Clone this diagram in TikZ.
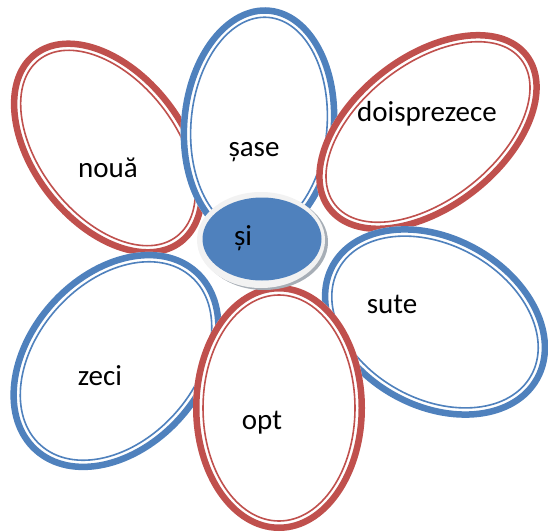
\documentclass[tikz,border=0pt]{standalone}
\usepackage{fontspec}
\setmainfont{Carlito}
\usepackage{tikz}
\usetikzlibrary{positioning}

\definecolor{petalblue}{HTML}{4F81BD}
\definecolor{petalred}{HTML}{C0504D}
\definecolor{rimgray}{HTML}{F2F2F2}
\definecolor{shadowgray}{HTML}{A7AEB6}

% petal: centre x, centre y, half axis a, half axis b, angle, colour
\newcommand{\petal}[6]{%
  \begin{scope}[shift={(#1,#2)}, rotate=#5]
    \fill[white] (0,0) ellipse ({#3} and {#4});
    \draw[#6, line width=6.5pt] (0,0) ellipse ({#3-3.25} and {#4-3.25});
    \draw[#6, line width=1.6pt] (0,0) ellipse ({#3-10} and {#4-10});
  \end{scope}}

\begin{document}
\begin{tikzpicture}[x=1pt, y=1pt]
        \tikzset{
            % Define style for the words
            cuvant/.style={
                    font=\fontsize{29}{32}\selectfont,
                    anchor=base,
                    inner sep=0pt},
        }
        \useasboundingbox (0,0) rectangle (548,531);

        % Draw the petals
        \petal{108}{383}{122}{78}{-52}{petalred}
        \petal{259}{406}{78}{118}{-5}{petalblue}
        \petal{428}{399}{128}{78}{38}{petalred}
        \petal{435}{209}{120}{87}{-29}{petalblue}
        \petal{116}{170}{123}{89}{48}{petalblue}
        \petal{279}{123}{86}{123}{0}{petalred}

        % Draw the middle
        \fill[shadowgray] (264,289) ellipse (64 and 48);
        \fill[rimgray] (261,291) ellipse (64 and 48);
        \fill[petalblue] (262,292) ellipse (59.5 and 41.5);

        % Put the words
        \node[cuvant] (noua) at (108,353) {nouă};
        \node[cuvant] (sase) at (254,374) {șase};
        \node[cuvant] (doi) at (427,409) {doisprezece};
        \node[cuvant] (sute) at (392,218) {sute};
        \node[cuvant] (zeci) at (100,146) {zeci};
        \node[cuvant] (opt) at (262,102) {opt};
        \node[cuvant] (si) at (243,286) {și};

    \end{tikzpicture}
\end{document}
